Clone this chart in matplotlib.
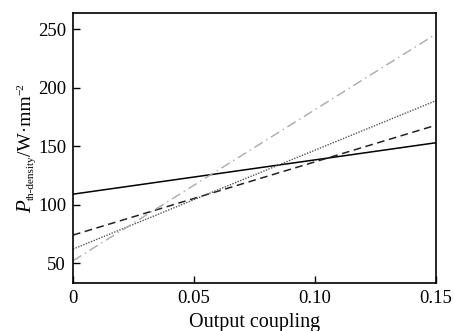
import matplotlib
matplotlib.use("Agg")
import matplotlib.pyplot as plt
import numpy as np

plt.rcParams['font.family'] = ['Liberation Serif', 'DejaVu Serif']

x_ends = [0.0, 0.15]
solid = [109, 153]
dashed = [74, 168]
dotted = [62, 189]
dashdot = [52, 246]

xticks = [0, 0.05, 0.10, 0.15]
xticklabels = ['0', '0.05', '0.10', '0.15']
yticks = [50, 100, 150, 200, 250]

# y-label pieces: (text, size, style, baseline shift in px; + = subscript)
ylabel_parts = [("P", 15, 'italic', 0), ("th-density", 8, 'normal', 3),
                ("/W·mm", 14, 'normal', 0), ("\u22122", 8, 'normal', -8)]
xlabel_text = 'Output coupling'

W, H = 454, 331
fig = plt.figure(figsize=(W/100, H/100), dpi=100)
ax = fig.add_axes([73/W, 1-283/H, (436-73)/W, (283-13)/H])

ax.plot(x_ends, solid, color='black', lw=1.1, ls='-')
ax.plot(x_ends, dashed, color='#222222', lw=1.1, ls=(0, (5, 3)))
ax.plot(x_ends, dotted, color='#555555', lw=1.0, ls=(0, (1, 1)))
ax.plot(x_ends, dashdot, color='#aaaaaa', lw=1.0, ls=(0, (7, 3, 1, 3)))

ax.set_xlim(0, 0.15)
ax.set_ylim(33, 264)
ax.set_xticks(xticks)
ax.set_xticklabels(xticklabels)
ax.set_yticks(yticks)
ax.tick_params(direction='in', length=5, width=1, labelsize=13.5, top=False, right=False, pad=5)
for s in ax.spines.values():
    s.set_linewidth(1.2)

ax.set_xlabel(xlabel_text, fontsize=14.5)
ax.xaxis.set_label_coords(0.5, -0.11)

# build composite rotated y-label
renderer = fig.canvas.get_renderer()
base_x = 31.0          # baseline x in pixels
center_y = H - 148.0   # centre in figure pixel coords (from bottom)
texts = []
advs = []
for txt, size, style, shift in ylabel_parts:
    t = fig.text(0, 0, txt, fontsize=size, fontstyle=style, rotation=90,
                 rotation_mode='anchor', ha='left', va='baseline',
                 transform=None)
    bb = t.get_window_extent(renderer)
    advs.append(bb.height)
    texts.append((t, shift))
total = sum(advs)
y = center_y - total/2
for (t, shift), a in zip(texts, advs):
    t.set_position((base_x + shift, y))
    y += a

fig.savefig('out.png', dpi=100)
